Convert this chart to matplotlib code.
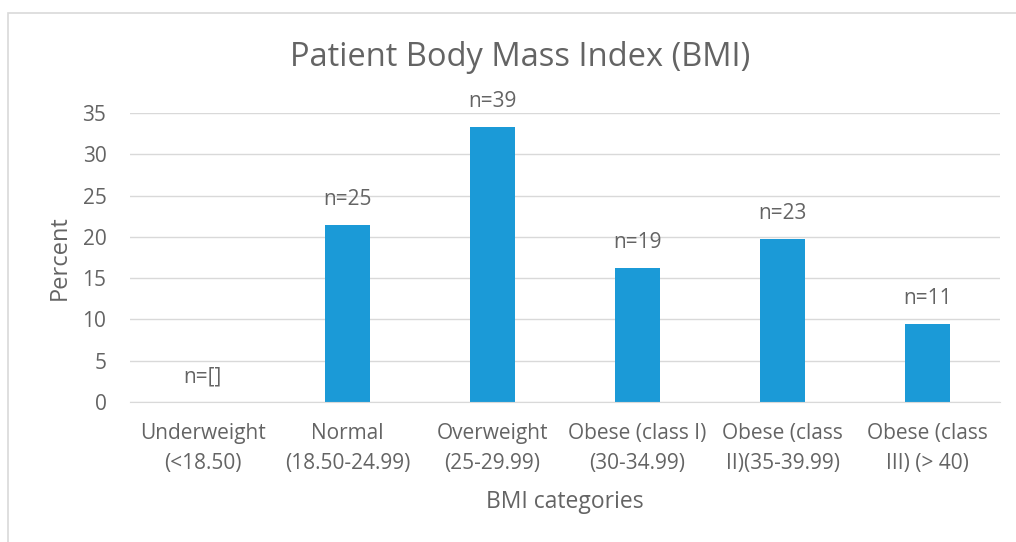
import matplotlib.pyplot as plt
from matplotlib.patches import Rectangle

# BMI categories and percent of patients
categories = ['Underweight\n(<18.50)', 'Normal\n(18.50-24.99)', 'Overweight\n(25-29.99)',
              'Obese (class I)\n(30-34.99)', 'Obese (class\nII)(35-39.99)', 'Obese (class\nIII) (> 40)']
percents = [0, 21.4, 33.3, 16.2, 19.7, 9.4]
counts = ['n=[]', 'n=25', 'n=39', 'n=19', 'n=23', 'n=11']

BAR_COLOR = '#1B9AD7'
TEXT_COLOR = '#646464'
GRID_COLOR = '#D9D9D9'

plt.rcParams['font.family'] = ['Open Sans', 'DejaVu Sans']

fig = plt.figure(figsize=(10.16, 5.42), dpi=100)
W, H = 1016, 542
ax = fig.add_axes([130 / W, 1 - 402 / H, 870 / W, (402 - 113) / H])

x = range(len(categories))
ax.bar(x, percents, width=0.31, color=BAR_COLOR, zorder=3)
for i, (p, c) in enumerate(zip(percents, counts)):
    ax.annotate(c, (i, p), xytext=(0, 15), textcoords='offset pixels',
                ha='center', va='bottom', fontsize=15, color=TEXT_COLOR)

ax.set_xlim(-0.5, len(categories) - 0.5)
ax.set_ylim(0, 35)
ax.set_yticks(range(0, 36, 5))
ax.set_xticks(list(x))
ax.set_xticklabels(categories)
for lbl in ax.get_xticklabels():
    lbl.set_linespacing(1.55)
ax.tick_params(axis='both', length=0, colors=TEXT_COLOR, labelsize=15)
ax.tick_params(axis='x', pad=15)
ax.tick_params(axis='y', pad=17)
ax.grid(axis='y', color=GRID_COLOR, linewidth=1, zorder=0)
for s in ['top', 'right', 'left']:
    ax.spines[s].set_visible(False)
ax.spines['bottom'].set_color(GRID_COLOR)
ax.spines['bottom'].set_zorder(4)

fig.text(520 / W, 1 - 58 / H, 'Patient Body Mass Index (BMI)', ha='center', va='center',
         fontsize=23.5, color=TEXT_COLOR)
fig.text(60 / W, 1 - 258 / H, 'Percent', ha='center', va='center', rotation=90,
         fontsize=17, color=TEXT_COLOR)
fig.text(565 / W, 1 - 502 / H, 'BMI categories', ha='center', va='center',
         fontsize=16.5, color=TEXT_COLOR)

# chart frame
fig.patches.append(Rectangle((8 / W, -0.1), 1.2, 1 - 13 / H + 0.1, transform=fig.transFigure,
                             fill=False, edgecolor=GRID_COLOR, linewidth=1.2))

fig.savefig('out.png', dpi=100)
